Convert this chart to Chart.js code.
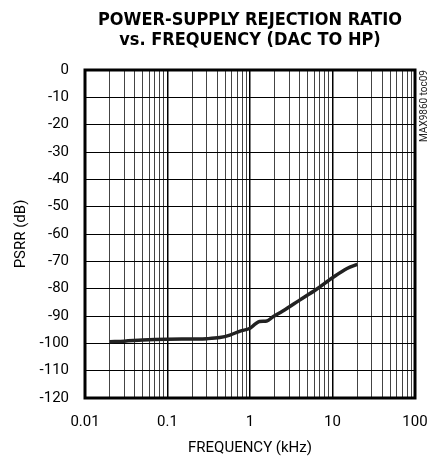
<!DOCTYPE html>
<html>
<head>
<meta charset="utf-8">
<script src="https://cdn.jsdelivr.net/npm/chart.js@4/dist/chart.umd.min.js"></script>
<style>
  html, body { margin: 0; padding: 0; background: #fff; }
  #wrap { width: 438px; height: 457px; }
</style>
</head>
<body>
<div id="wrap"><canvas id="psrrChart" width="438" height="457"></canvas></div>
<script>
// PSRR vs frequency, DAC to HP
const titleLines = ['POWER-SUPPLY REJECTION RATIO', 'vs. FREQUENCY (DAC TO HP)'];
const freqKHz = [0.02, 0.03, 0.05, 0.1, 0.2, 0.3, 0.43, 0.57, 0.76, 1.0, 1.15, 1.3, 1.6, 1.9, 2.5, 4.0, 6.4, 10, 15, 20];
const psrrDb = [-99.4, -99.2, -98.8, -98.5, -98.4, -98.3, -97.9, -97.0, -95.5, -94.5, -93.0, -92.0, -91.8, -90.3, -88.2, -84.2, -80.2, -76.0, -72.6, -71.1];
const xDecades = [0.01, 0.1, 1, 10, 100];
const xTickLabels = ['0.01', '0.1', '1', '10', '100'];
const watermark = 'MAX9860 toc09';

const titleFont = "'DejaVu Sans Condensed', 'Liberation Sans', sans-serif";
const labelFont = "Roboto, 'Liberation Sans', sans-serif";

function isDecade(v) {
    return xDecades.some(d => Math.abs(v - d) < d * 1e-6);
}

const framePlugin = {
    id: 'frame',
    afterDraw(chart) {
        const ctx = chart.ctx;
        const a = chart.chartArea;
        ctx.save();
        ctx.strokeStyle = '#000';
        ctx.lineWidth = 3;
        ctx.strokeRect(a.left, a.top, a.right - a.left, a.bottom - a.top);

        // title
        ctx.fillStyle = '#000';
        ctx.textAlign = 'center';
        ctx.textBaseline = 'alphabetic';
        ctx.font = "bold 18px " + titleFont;
        const cx = (a.left + a.right) / 2;
        ctx.fillText(titleLines[0], cx, 25);
        ctx.fillText(titleLines[1], cx, 45);

        // part number note
        ctx.translate(424, 106);
        ctx.rotate(-Math.PI / 2);
        ctx.font = "10px " + labelFont;
        ctx.textBaseline = 'middle';
        ctx.fillStyle = '#222';
        ctx.fillText(watermark, 0, 0);
        ctx.restore();
    }
};

document.addEventListener("DOMContentLoaded", function() {
    const ctx = document.getElementById("psrrChart").getContext("2d");

    new Chart(ctx, {
        type: 'line',
        data: {
            datasets: [{
                label: 'PSRR',
                data: freqKHz.map((f, i) => ({ x: f, y: psrrDb[i] })),
                borderColor: '#222',
                borderWidth: 3.5,
                pointRadius: 0,
                fill: false,
                cubicInterpolationMode: 'monotone'
            }]
        },
        options: {
            responsive: false,
            animation: false,
            layout: { padding: { top: 70, right: 23, left: 0, bottom: 0 } },
            plugins: {
                legend: { display: false },
                tooltip: { enabled: false }
            },
            scales: {
                x: {
                    type: 'logarithmic',
                    min: 0.01,
                    max: 100,
                    afterBuildTicks(scale) {
                        const ticks = [];
                        for (let d = 0; d < 4; d++) {
                            for (let m = 1; m < 10; m++) {
                                ticks.push({ value: m * xDecades[d] });
                            }
                        }
                        ticks.push({ value: 100 });
                        scale.ticks = ticks;
                    },
                    afterFit(scale) {
                        scale.height = 59;
                        scale.paddingLeft = 0;
                        scale.paddingRight = 0;
                    },
                    grid: {
                        drawTicks: false,
                        color: c => isDecade(c.tick.value) ? '#000' : '#444',
                        lineWidth: c => isDecade(c.tick.value) ? 1.5 : 1
                    },
                    border: { display: false },
                    ticks: {
                        autoSkip: false,
                        maxRotation: 0,
                        padding: 15,
                        color: '#000',
                        font: { family: labelFont, size: 15 },
                        callback: v => {
                            const i = xDecades.findIndex(d => Math.abs(v - d) < d * 1e-6);
                            return i >= 0 ? xTickLabels[i] : '';
                        }
                    },
                    title: {
                        display: true,
                        text: 'FREQUENCY (kHz)',
                        color: '#000',
                        font: { family: labelFont, size: 15 },
                        padding: { top: 0, bottom: 0 }
                    }
                },
                y: {
                    min: -120,
                    max: 0,
                    afterFit(scale) { scale.width = 85; },
                    grid: {
                        drawTicks: false,
                        color: '#000',
                        lineWidth: 1
                    },
                    border: { display: false },
                    ticks: {
                        stepSize: 10,
                        padding: 16,
                        color: '#000',
                        font: { family: labelFont, size: 15 }
                    },
                    title: {
                        display: true,
                        text: 'PSRR (dB)',
                        color: '#000',
                        font: { family: labelFont, size: 15 },
                        padding: { top: 12, bottom: 0 }
                    }
                }
            }
        },
        plugins: [framePlugin]
    });
});
</script>
</body>
</html>
